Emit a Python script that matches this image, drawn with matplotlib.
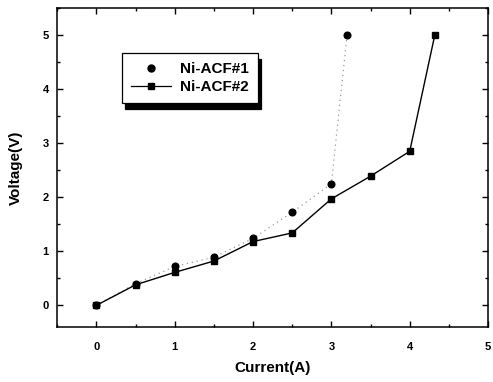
import matplotlib.pyplot as plt
from matplotlib.ticker import MultipleLocator
from matplotlib.lines import Line2D

plt.rcParams['font.family'] = ['Liberation Sans', 'DejaVu Sans']
plt.rcParams['font.weight'] = 'bold'

# Ni-ACF#1 measurements
current_1 = [0, 0.5, 1.0, 1.5, 2.0, 2.5, 3.0, 3.2]
voltage_1 = [0, 0.40, 0.72, 0.89, 1.24, 1.72, 2.25, 5.0]

# Ni-ACF#2 measurements
current_2 = [0, 0.5, 1.0, 1.5, 2.0, 2.5, 3.0, 3.5, 4.0, 4.32]
voltage_2 = [0, 0.38, 0.61, 0.82, 1.18, 1.34, 1.97, 2.39, 2.85, 5.0]

x_ticks = [0, 1, 2, 3, 4, 5]
y_ticks = [0, 1, 2, 3, 4, 5]
series_names = ['Ni-ACF#1', 'Ni-ACF#2']

fig = plt.figure(figsize=(4.93, 3.82), dpi=100)
ax = fig.add_axes([0.116, 0.144, 0.874, 0.835])

ax.plot(current_1, voltage_1, linestyle=(0, (1, 3)), color='#9a9a9a', linewidth=0.9,
        marker='o', markersize=4.8, markerfacecolor='black', markeredgecolor='black')
ax.plot(current_2, voltage_2, linestyle='-', color='black', linewidth=1.0,
        marker='s', markersize=5, markerfacecolor='black', markeredgecolor='black')

ax.set_xlim(-0.5, 5.0)
ax.set_ylim(-0.4, 5.5)
ax.set_xticks(x_ticks)
ax.set_yticks(y_ticks)
ax.xaxis.set_minor_locator(MultipleLocator(0.5))
ax.yaxis.set_minor_locator(MultipleLocator(0.5))
ax.tick_params(which='both', direction='in', top=True, right=True,
               labelsize=8, width=1.0)
ax.tick_params(which='major', length=4)
ax.tick_params(which='minor', length=2)
ax.tick_params(axis='x', which='major', pad=11)
ax.tick_params(axis='y', which='major', pad=6)
for lbl in ax.get_xticklabels() + ax.get_yticklabels():
    lbl.set_fontweight('bold')
for sp in ax.spines.values():
    sp.set_linewidth(1.1)

ax.set_xlabel('Current(A)', fontsize=11, fontweight='bold', labelpad=6)
ax.set_ylabel('Voltage(V)', fontsize=11, fontweight='bold', labelpad=14)

handles = [
    Line2D([], [], linestyle='none', marker='o', markersize=5,
           markerfacecolor='black', markeredgecolor='black'),
    Line2D([], [], linestyle='-', color='black', linewidth=0.9, marker='s',
           markersize=5, markerfacecolor='black', markeredgecolor='black'),
]
leg = ax.legend(handles, series_names, loc='upper left',
                bbox_to_anchor=(0.151, 0.859),
                prop={'size': 11, 'weight': 'bold'}, frameon=True, fancybox=False,
                shadow={'color': 'black', 'alpha': 1.0, 'ox': 2, 'oy': -4},
                handlelength=2.6, borderpad=0.6, labelspacing=0.25,
                handletextpad=0.6, borderaxespad=0)
leg.get_frame().set_edgecolor('black')
leg.get_frame().set_linewidth(0.9)

fig.savefig('out.png', dpi=100)
